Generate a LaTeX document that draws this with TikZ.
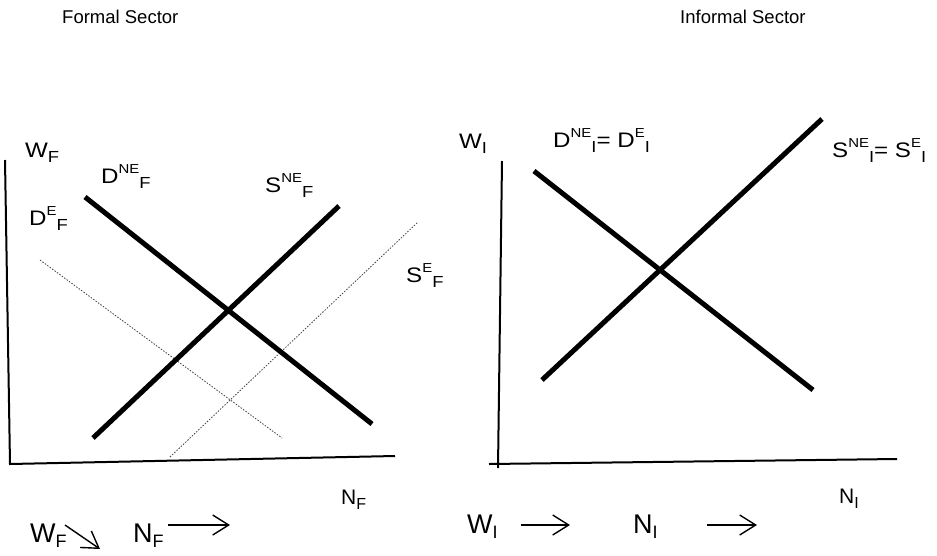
\documentclass[tikz,border=0pt]{standalone}
\usepackage{fontspec}
\setmainfont{Liberation Sans}
\newfontfamily\lblfont[FakeStretch=1.15]{Liberation Sans}
\usetikzlibrary{arrows.meta}
\newcommand{\lsup}[1]{\raisebox{10pt}{\fontsize{13}{13}\selectfont #1}}
\newcommand{\lsub}[1]{\raisebox{-5pt}{\fontsize{16}{16}\selectfont #1}}
\newcommand{\bsub}[1]{\raisebox{-5pt}{\fontsize{18}{18}\selectfont #1}}
\tikzset{
	lbl/.style={anchor=base west, inner sep=0pt, font=\lblfont\fontsize{21}{24}\selectfont},
	ttl/.style={anchor=base west, inner sep=0pt, font=\fontsize{18.5}{22}\selectfont},
	qty/.style={anchor=base west, inner sep=0pt, font=\fontsize{21}{24}\selectfont},
	eff/.style={anchor=base west, inner sep=0pt, font=\fontsize{27}{30}\selectfont},
	axis/.style={line width=2pt},
	curve/.style={line width=5pt},
	shifted/.style={line width=0.8pt, black!75, dash pattern=on 1.5pt off 1.5pt},
	move/.style={line width=1.4pt, -{Straight Barb[length=16pt,width=20pt,line width=1.4pt]}}
}
\begin{document}
\begin{tikzpicture}[x=1pt,y=-1pt]
	\useasboundingbox (0,0) rectangle (937,555);
	% titles
	\node (tF) at (62,23) [ttl] {Formal Sector};
	\node (tI) at (680,23) [ttl] {Informal Sector};
	% formal sector
	\coordinate (WFtop) at (5,160);
	\coordinate (OF) at (10,464);
	\coordinate (NFend) at (395,456);
	\coordinate (DNE1) at (85,197);
	\coordinate (DNE2) at (372,424);
	\coordinate (SNE1) at (93,438);
	\coordinate (SNE2) at (339,206);
	\coordinate (DE1) at (40,260);
	\coordinate (DE2) at (282,438);
	\coordinate (SE1) at (170,457);
	\coordinate (SE2) at (418,222);
	\draw [axis] (WFtop)--(OF)--(NFend);
	\draw [shifted] (DE1)--(DE2) (SE1)--(SE2);
	\draw [curve] (DNE1)--(DNE2) (SNE1)--(SNE2);
	\node (wF) at (25,157) [lbl] {W\lsub{F}};
	\node (dNEF) at (101,183) [lbl] {D\lsup{NE}\lsub{F}};
	\node (dEF) at (29,225) [lbl] {D\lsup{E}\lsub{F}};
	\node (sNEF) at (265,192) [lbl] {S\lsup{NE}\lsub{F}};
	\node (sEF) at (406,282) [lbl] {S\lsup{E}\lsub{F}};
	\node (nF) at (341,504) [qty] {N\lsub{F}};
	% informal sector
	\coordinate (WItop) at (502,161);
	\coordinate (OI) at (498,468);
	\coordinate (OIl) at (489,464);
	\coordinate (NIend) at (897,459);
	\coordinate (DI1) at (534,171);
	\coordinate (DI2) at (813,390);
	\coordinate (SI1) at (542,380);
	\coordinate (SI2) at (822,119);
	\draw [axis] (WItop)--(OI) (OIl)--(NIend);
	\draw [curve] (DI1)--(DI2) (SI1)--(SI2);
	\node (wI) at (459,148) [lbl] {W\lsub{I}};
	\node (dI) at (553,147) [lbl] {D\lsup{NE}\lsub{I}= D\lsup{E}\lsub{I}};
	\node (sI) at (832,157) [lbl] {S\lsup{NE}\lsub{I}= S\lsup{E}\lsub{I}};
	\node (nI) at (839,503) [qty] {N\lsub{I}};
	% effects
	\node (wFb) at (30,542) [eff] {W\bsub{F}};
	\node (nFb) at (133,542) [eff] {N\bsub{F}};
	\node (wIb) at (467,533) [eff] {W\bsub{I}};
	\node (nIb) at (633,533) [eff] {N\bsub{I}};
	\coordinate (aF1) at (65,525);
	\coordinate (aF2) at (100,549);
	\coordinate (aN1) at (168,525);
	\coordinate (aN2) at (230,525);
	\coordinate (aW1) at (521,525);
	\coordinate (aW2) at (570,525);
	\coordinate (aI1) at (707,525);
	\coordinate (aI2) at (757,525);
	\draw [move] (aF1)--(aF2);
	\draw [move] (aN1)--(aN2);
	\draw [move] (aW1)--(aW2);
	\draw [move] (aI1)--(aI2);
\end{tikzpicture}
\end{document}
